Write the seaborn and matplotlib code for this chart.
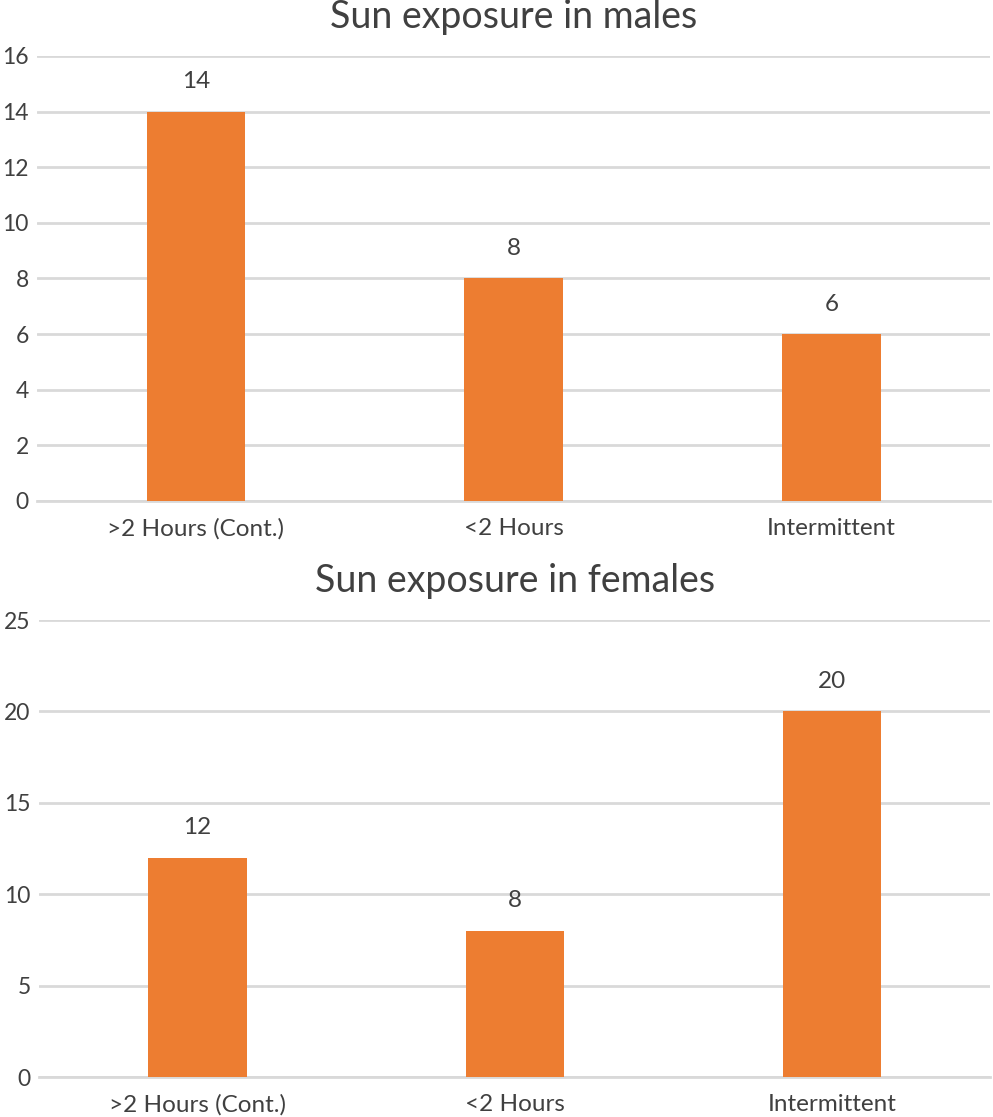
import pandas as pd
import matplotlib.pyplot as plt
import seaborn as sns

# données
categories = ['>2 Hours (Cont.)', '<2 Hours', 'Intermittent']
males = [14, 8, 6]
females = [12, 8, 20]

sns.set_theme(style='white')
plt.rcParams['font.family'] = ['Lato', 'DejaVu Sans']

orange = '#ED7D31'
grid_col = '#D9D9D9'
txt_col = '#404040'

fig = plt.figure(figsize=(9.93, 11.17), dpi=100)
ax1 = fig.add_axes([0.0373, 0.5515, 0.96, 0.3984])
ax2 = fig.add_axes([0.0393, 0.0358, 0.958, 0.4091])

panels = [
    (ax1, males, 'Sun exposure in males', 16, 2),
    (ax2, females, 'Sun exposure in females', 25, 5),
]

for ax, vals, title, ymax, step in panels:
    df = pd.DataFrame({'cat': categories, 'n': vals})
    sns.barplot(data=df, x='cat', y='n', color=orange, width=0.31,
                saturation=1, linewidth=0, ax=ax, zorder=3)
    ax.set_ylim(0, ymax)
    ax.set_yticks(range(0, ymax + 1, step))
    ax.yaxis.grid(True, color=grid_col, linewidth=2, zorder=0)
    ax.set_axisbelow(True)
    for s in ['top', 'right', 'left']:
        ax.spines[s].set_visible(False)
    ax.spines['bottom'].set_color(grid_col)
    ax.spines['bottom'].set_linewidth(2)
    ax.tick_params(axis='both', length=0, labelsize=17.5, colors=txt_col)
    ax.tick_params(axis='x', pad=12)
    ax.tick_params(axis='y', labelsize=16.5, pad=6)
    ax.set_xlabel('')
    ax.set_ylabel('')
    ax.set_title(title, fontsize=27, color=txt_col, pad=20)
    for c in ax.containers:
        ax.bar_label(c, fontsize=17.5, color=txt_col, padding=14)

fig.savefig('out.png', dpi=100)
